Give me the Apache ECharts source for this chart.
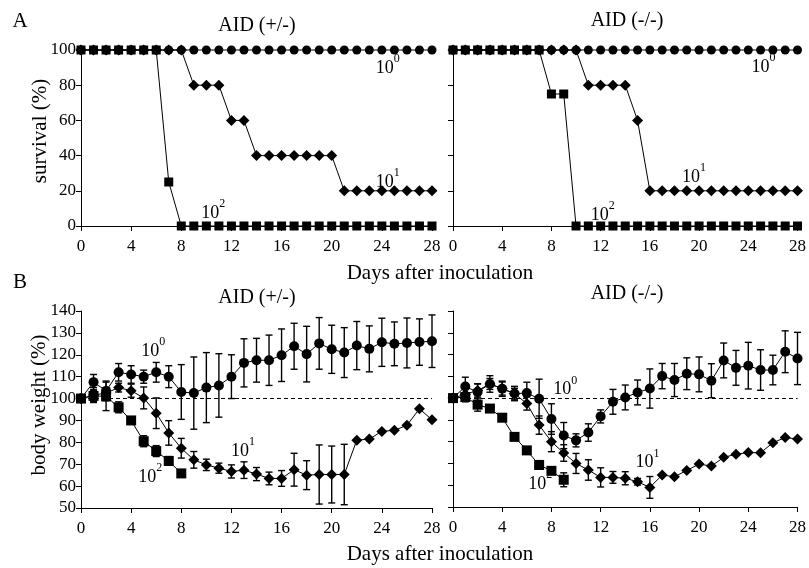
<!DOCTYPE html>
<html><head><meta charset="utf-8">
<script src="https://cdn.jsdelivr.net/npm/echarts@6.0.0/dist/echarts.min.js"></script>
<style>html,body{margin:0;padding:0;background:#fff}#c{width:809px;height:568px}</style>
</head><body><div id="c"></div>
<script>
// ---------------- DATA ----------------
const days = [0,1,2,3,4,5,6,7,8,9,10,11,12,13,14,15,16,17,18,19,20,21,22,23,24,25,26,27,28];
const xTicks = [0,4,8,12,16,20,24,28];
const survivalTicks = [0,20,40,60,80,100];
const weightTicks = [50,60,70,80,90,100,110,120,130,140];

// A: survival (%) AID (+/-)
const survHetCircle  = [100,100,100,100,100,100,100,100,100,100,100,100,100,100,100,100,100,100,100,100,100,100,100,100,100,100,100,100,100];
const survHetDiamond = [100,100,100,100,100,100,100,100,100,80,80,80,60,60,40,40,40,40,40,40,40,20,20,20,20,20,20,20,20];
const survHetSquare  = [100,100,100,100,100,100,100,25,0,0,0,0,0,0,0,0,0,0,0,0,0,0,0,0,0,0,0,0,0];
// A: survival (%) AID (-/-)
const survKoCircle   = [100,100,100,100,100,100,100,100,100,100,100,100,100,100,100,100,100,100,100,100,100,100,100,100,100,100,100,100,100];
const survKoDiamond  = [100,100,100,100,100,100,100,100,100,100,100,80,80,80,80,60,20,20,20,20,20,20,20,20,20,20,20,20,20];
const survKoSquare   = [100,100,100,100,100,100,100,100,75,75,0,0,0,0,0,0,0,0,0,0,0,0,0,0,0,0,0,0,0];

// B: body weight (%) AID (+/-)
const bwHetCircle     = [100,107.5,103.5,112,111,110,112,110,103,102.5,105,106,110,116.3,117.5,117.5,119.8,123.9,120.3,125.2,122.5,121,124.2,122.7,125.7,125,125.4,125.8,126.2];
const bwHetCircleErr  = [0,3.5,4.5,4,4,3,4.5,5,12.5,16.5,16,14.5,10,11,10,11.5,12,10.5,12.7,11.8,11,11.4,11,10.5,11,10,11.4,10.6,12];
const bwHetDiamond    = [100,101.6,102.5,105,103.6,100.3,93.3,84.3,77.3,72,69.7,68.2,66.7,67.3,65.5,63.5,63.5,67.5,65,65.3,65.3,65.3,81,81.5,85,85.5,87.8,95.3,90.3];
const bwHetDiamondErr = [0,3.4,2.5,2,3,5,7,5.6,4.5,3.8,2.6,2.3,3,3.8,3,2.9,3.6,7.5,6.6,13.5,13,13.8,0,0,0,0,0,0,0];
const bwHetSquare     = [100,101.2,101,96,90,80.5,76,71.5,65.8];
const bwHetSquareErr  = [0,2.5,6.5,2.5,0,2.5,2.5,2,0];
// B: body weight (%) AID (-/-)
const bwKoCircle      = [100,105.3,102.8,106.5,104.3,102.1,102.3,99.7,90.4,82.8,80.6,84.2,91.6,98.3,100.3,102.6,104.4,110.1,108.3,111.2,110.9,108,117.3,113.9,114.9,112.9,112.9,121.3,118.2];
const bwKoCircleErr   = [0,4.3,3.8,3.8,3.5,3.3,5,9,7,6,3,4,3,5.7,5.7,5.7,9,5.8,7.6,7.3,8,7.8,8,8,10.7,9.3,6.8,9.6,12];
const bwKoDiamond     = [100,101.8,103.5,106.5,104.4,102,97.5,87.6,80,74.8,70,67,63.6,63.6,63.2,61.6,59,64.7,63.9,66.8,69.7,68.8,72.8,74.2,75,74.9,79.5,81.9,81.2];
const bwKoDiamondErr  = [0,3.5,3,2.5,3,2.5,3,4.2,4.6,3.8,4.6,4.7,4.4,2.7,3,1.5,5,0,0,0,0,0,0,0,0,0,0,0,0];
const bwKoSquare      = [100,100.5,97,95.2,91,82.2,76,69.3,66.6,62.5];
const bwKoSquareErr   = [0,2,3,0,1.5,0,0,2,0,3.2];

// ---------------- CHART ----------------
const FONT = '"Liberation Serif", "Times New Roman", serif';
const chart = echarts.init(document.getElementById('c'), null, {renderer:'canvas'});

const grids = [
  {left:81, top:50, width:351, height:176},
  {left:453, top:50, width:349, height:176},
  {left:81, top:311, width:351, height:197},
  {left:453, top:311, width:349, height:196}
];

function xAxis(gi){
  return {type:'value', gridIndex:gi, min:xTicks[0], max:xTicks[xTicks.length-1], interval:xTicks[1]-xTicks[0],
    axisLine:{show:true, onZero:false, lineStyle:{color:'#000', width:1}},
    axisTick:{show:true, length:5, lineStyle:{color:'#000'}},
    axisLabel:{show:true, color:'#000', fontFamily:FONT, fontSize:17, margin:12},
    splitLine:{show:false}};
}
function yAxis(gi, ticks, labels){
  return {type:'value', gridIndex:gi, min:ticks[0], max:ticks[ticks.length-1], interval:ticks[1]-ticks[0],
    axisLine:{show:true, onZero:false, lineStyle:{color:'#000', width:1}},
    axisTick:{show:true, length:5, lineStyle:{color:'#000'}},
    axisLabel:{show:labels, color:'#000', fontFamily:FONT, fontSize:17, margin:5},
    splitLine:{show:false}};
}

const rich = {
  a:{fontFamily:FONT, fontSize:18, color:'#000', lineHeight:24, verticalAlign:'bottom'},
  b:{fontFamily:FONT, fontSize:12, color:'#000', lineHeight:12, verticalAlign:'top'}
};

function lineSeries(gi, vals, sym, size, z, labels){
  const data = vals.map((v,i)=>({value:[days[i], v]}));
  (labels||[]).forEach(l=>{
    data[l.i].label = {show:true, position:'inside', offset:[l.dx, l.dy], align:'center', verticalAlign:'middle',
      formatter:'{a|10}{b|'+l.sup+'}', rich:rich};
  });
  return {type:'line', xAxisIndex:gi, yAxisIndex:gi, data, symbol:sym, symbolSize:size, showSymbol:true,
    lineStyle:{color:'#000', width:1}, itemStyle:{color:'#000', borderWidth:0}, clip:false, z:z,
    emphasis:{disabled:true}, animation:false, label:{show:false}};
}

function errSeries(gi, vals, errs, z){
  const data = [];
  vals.forEach((v,i)=>{ if (errs[i] > 0) data.push([days[i], v - errs[i], v + errs[i]]); });
  return {type:'custom', xAxisIndex:gi, yAxisIndex:gi, z:z, silent:true, animation:false,
    encode:{x:0, y:[1,2]},
    renderItem(params, api){
      const x = api.value(0);
      const lo = api.coord([x, api.value(1)]);
      const hi = api.coord([x, api.value(2)]);
      const w = 3.5, st = {stroke:'#000', lineWidth:1.4};
      return {type:'group', children:[
        {type:'line', shape:{x1:lo[0], y1:lo[1], x2:hi[0], y2:hi[1]}, style:st},
        {type:'line', shape:{x1:lo[0]-w, y1:lo[1], x2:lo[0]+w, y2:lo[1]}, style:st},
        {type:'line', shape:{x1:hi[0]-w, y1:hi[1], x2:hi[0]+w, y2:hi[1]}, style:st}
      ]};
    },
    data};
}

const dashed = {silent:true, symbol:'none', label:{show:false}, animation:false,
  lineStyle:{color:'#000', width:1, type:[4,3]}, data:[{yAxis:100}]};

const series = [
  // A left
  lineSeries(0, survHetCircle, 'circle', 9, 2, [{i:24, sup:'0', dx:6, dy:15}]),
  lineSeries(0, survHetDiamond, 'diamond', 11, 3, [{i:24, sup:'1', dx:6, dy:-12}]),
  lineSeries(0, survHetSquare, 'rect', 9, 4, [{i:10, sup:'2', dx:7, dy:-16}]),
  // A right
  lineSeries(1, survKoCircle, 'circle', 9, 2, [{i:25, sup:'0', dx:3, dy:14}]),
  lineSeries(1, survKoDiamond, 'diamond', 11, 3, [{i:20, sup:'1', dx:-5, dy:-17}]),
  lineSeries(1, survKoSquare, 'rect', 9, 4, [{i:12, sup:'2', dx:2, dy:-14}]),
  // B left
  errSeries(2, bwHetCircle, bwHetCircleErr, 2),
  errSeries(2, bwHetDiamond, bwHetDiamondErr, 2),
  errSeries(2, bwHetSquare, bwHetSquareErr, 2),
  Object.assign(lineSeries(2, bwHetCircle, 'circle', 10, 3, [{i:6, sup:'0', dx:-3, dy:-24}]), {markLine:dashed}),
  lineSeries(2, bwHetDiamond, 'diamond', 11, 4, [{i:13, sup:'1', dx:-1, dy:-22}]),
  lineSeries(2, bwHetSquare, 'rect', 10, 5, [{i:6, sup:'2', dx:-6, dy:23}]),
  // B right
  errSeries(3, bwKoCircle, bwKoCircleErr, 2),
  errSeries(3, bwKoDiamond, bwKoDiamondErr, 2),
  errSeries(3, bwKoSquare, bwKoSquareErr, 2),
  Object.assign(lineSeries(3, bwKoCircle, 'circle', 10, 3, [{i:7, sup:'0', dx:26, dy:-12}]), {markLine:dashed}),
  lineSeries(3, bwKoDiamond, 'diamond', 11, 4, [{i:15, sup:'1', dx:10, dy:-22}]),
  lineSeries(3, bwKoSquare, 'rect', 10, 5, [{i:7, sup:'2', dx:1, dy:16}])
];

function txt(x, y, text, size, rot){
  return {type:'text', x:x, y:y, rotation:rot||0, silent:true,
    style:{text:text, fill:'#000', font:size+'px '+FONT, align:'center', verticalAlign:'middle'}};
}

chart.setOption({
  backgroundColor:'#fff',
  animation:false,
  grid:grids,
  xAxis:[xAxis(0), xAxis(1), xAxis(2), xAxis(3)],
  yAxis:[yAxis(0, survivalTicks, true), yAxis(1, survivalTicks, false), yAxis(2, weightTicks, true), yAxis(3, weightTicks, false)],
  series:series,
  graphic:[
    txt(20, 21, 'A', 21),
    txt(20, 282, 'B', 21),
    txt(257, 26, 'AID (+/-)', 20),
    txt(627, 21, 'AID (-/-)', 20),
    txt(257, 298, 'AID (+/-)', 20),
    txt(627, 294, 'AID (-/-)', 20),
    txt(440, 273, 'Days after inoculation', 21),
    txt(440, 554, 'Days after inoculation', 21),
    txt(40, 131, 'survival (%)', 21, Math.PI/2),
    txt(39, 405, 'body weight (%)', 21, Math.PI/2)
  ]
});
</script></body></html>
